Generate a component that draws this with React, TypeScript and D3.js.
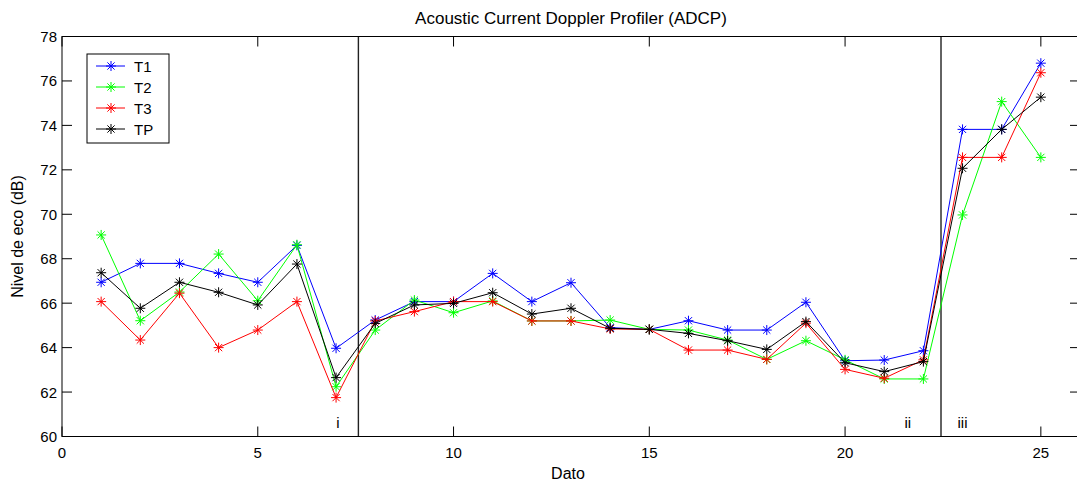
import React from "react";
import * as d3 from "d3";

const dato = [1, 2, 3, 4, 5, 6, 7, 8, 9, 10, 11, 12, 13, 14, 15, 16, 17, 18, 19, 20, 21, 22, 23, 24, 25];
const t1 = [66.94, 67.79, 67.79, 67.34, 66.94, 68.6, 63.97, 65.24, 66.07, 66.07, 67.34, 66.07, 66.92, 64.9, 64.82, 65.21, 64.79, 64.79, 66.04, 63.41, 63.44, 63.86, 73.82, 73.82, 76.8];
const t2 = [69.07, 65.21, 66.5, 68.21, 66.11, 68.63, 62.24, 64.79, 66.14, 65.57, 66.1, 65.2, 65.2, 65.24, 64.82, 64.79, 64.34, 63.47, 64.31, 63.45, 62.59, 62.59, 69.97, 75.07, 72.56];
const t3 = [66.07, 64.34, 66.45, 64.0, 64.79, 66.07, 61.75, 65.2, 65.62, 66.07, 66.07, 65.2, 65.2, 64.84, 64.82, 63.89, 63.89, 63.47, 65.1, 63.02, 62.62, 63.45, 72.56, 72.56, 76.37];
const tp = [67.37, 65.77, 66.94, 66.49, 65.92, 67.76, 62.65, 65.09, 65.92, 65.99, 66.47, 65.51, 65.77, 64.87, 64.82, 64.64, 64.31, 63.92, 65.17, 63.32, 62.92, 63.37, 72.07, 73.82, 75.27];

const seriesNames = ["T1", "T2", "T3", "TP"];
const seriesColors = ["#0000ff", "#00ff00", "#ff0000", "#000000"];
const seriesValues = [t1, t2, t3, tp];

const xTicks = [0, 5, 10, 15, 20, 25];
const yTicks = [60, 62, 64, 66, 68, 70, 72, 74, 76, 78];
const dividers = [7.57, 22.45];
const zoneLabels = ["i", "ii", "iii"];
const zoneLabelX = [7.05, 21.6, 23.0];

const title = "Acoustic Current Doppler Profiler (ADCP)";
const xLabel = "Dato";
const yLabel = "Nivel de eco (dB)";

const W = 1077;
const H = 485;
const L = 62;
const R = 1080;
const T = 36.5;
const B = 436.5;
const FONT = "'Liberation Sans', Arial, sans-serif";

function Star({ x, y, color }: { x: number; y: number; color: string }) {
  const a = 5;
  const b = 3.6;
  return (
    <g stroke={color} strokeWidth={1}>
      <line x1={x - a} y1={y} x2={x + a} y2={y} />
      <line x1={x} y1={y - a} x2={x} y2={y + a} />
      <line x1={x - b} y1={y - b} x2={x + b} y2={y + b} />
      <line x1={x - b} y1={y + b} x2={x + b} y2={y - b} />
    </g>
  );
}

export default function App() {
  const x = d3.scaleLinear().domain([0, 26]).range([L, R]);
  const y = d3.scaleLinear().domain([60, 78]).range([B, T]);
  const line = d3
    .line<number>()
    .x((_, i) => x(dato[i]))
    .y((v) => y(v));

  const tickLen = 10;
  const legX = 87;
  const legY = 54;
  const legW = 82;
  const legH = 89;
  const legRowY = [66, 87, 108, 129];

  return (
    <svg
      width={W}
      height={H}
      style={{ position: "absolute", left: 0, top: 0, background: "#fff" }}
      fontFamily={FONT}
    >
      <rect x={0} y={0} width={W} height={H} fill="#fff" />
      <text x={571} y={24} textAnchor="middle" fontSize={17} fill="#000">
        {title}
      </text>

      {/* dividers */}
      {dividers.map((d, i) => (
        <line key={"dv" + i} x1={x(d)} x2={x(d)} y1={T} y2={B} stroke="#222" strokeWidth={1.4} />
      ))}
      {zoneLabels.map((s, i) => (
        <text key={"zl" + i} x={x(zoneLabelX[i])} y={y(60.65) + 6} textAnchor="middle" fontSize={15} fill="#000">
          {s}
        </text>
      ))}

      {/* series */}
      {seriesValues.map((vals, si) => (
        <g key={"s" + si}>
          <path d={line(vals) || ""} fill="none" stroke={seriesColors[si]} strokeWidth={1} />
          {vals.map((v, i) => (
            <Star key={i} x={x(dato[i])} y={y(v)} color={seriesColors[si]} />
          ))}
        </g>
      ))}

      {/* axes box */}
      <rect x={L} y={T} width={R - L} height={B - T} fill="none" stroke="#000" strokeWidth={1} />
      {xTicks.map((t) => (
        <g key={"xt" + t}>
          <line x1={x(t)} x2={x(t)} y1={B} y2={B - tickLen} stroke="#000" />
          <line x1={x(t)} x2={x(t)} y1={T} y2={T + tickLen} stroke="#000" />
          <text x={x(t)} y={B + 21} textAnchor="middle" fontSize={15} fill="#000">
            {t}
          </text>
        </g>
      ))}
      {yTicks.map((t) => (
        <g key={"yt" + t}>
          <line x1={L} x2={L + tickLen} y1={y(t)} y2={y(t)} stroke="#000" />
          <line x1={R} x2={R - tickLen} y1={y(t)} y2={y(t)} stroke="#000" />
          <text x={L - 5} y={y(t) + 5.5} textAnchor="end" fontSize={15} fill="#000">
            {t}
          </text>
        </g>
      ))}
      <text x={568} y={479} textAnchor="middle" fontSize={16} fill="#000">
        {xLabel}
      </text>
      <text
        transform={`translate(23, ${(T + B) / 2}) rotate(-90)`}
        textAnchor="middle"
        fontSize={16}
        fill="#000"
      >
        {yLabel}
      </text>

      {/* legend */}
      <rect x={legX} y={legY} width={legW} height={legH} fill="#fff" stroke="#000" strokeWidth={1} />
      {seriesNames.map((n, i) => (
        <g key={"lg" + i}>
          <line x1={96} x2={125} y1={legRowY[i]} y2={legRowY[i]} stroke={seriesColors[i]} />
          <Star x={111} y={legRowY[i]} color={seriesColors[i]} />
          <text x={134} y={legRowY[i] + 5.5} fontSize={15} fill="#000">
            {n}
          </text>
        </g>
      ))}
    </svg>
  );
}
